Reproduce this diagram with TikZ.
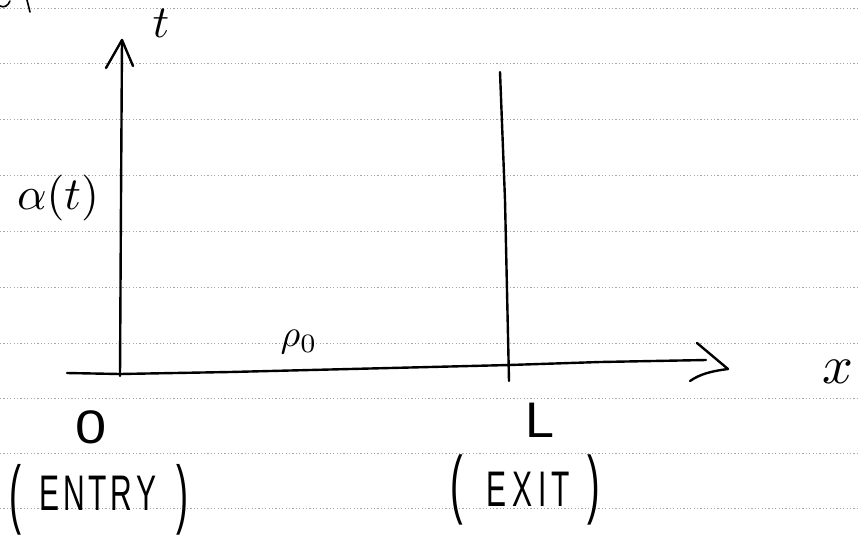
\documentclass[tikz,border=0pt]{standalone}
\usepackage{fontspec}
\usepackage{graphicx}
\newfontfamily\handfont{Liberation Sans}
\tikzset{
  ink/.style={line width=2.4pt, line cap=round, line join=round, black},
  ruled/.style={gray!70, line width=0.6pt, dash pattern=on 1.2pt off 2.2pt},
  lbl/.style={inner sep=0pt, outer sep=0pt, black},
}
\begin{document}
\begin{tikzpicture}[x=1pt,y=-1pt]
\useasboundingbox (0,0) rectangle (858,536);
\fill[white] (0,0) rectangle (858,536);
% ruled lines of the paper
\foreach \yy in {8,63.5,119,175,231,287,343,398,453,508}
  \draw[ruled] (0,\yy) -- (858,\yy);
% fragment at top left
\draw[ink, line width=1.6pt] (0,6) .. controls (4,8) and (8,6) .. (10,1);
\draw[ink, line width=1.6pt] (27,0) -- (30,12);
% coordinates
\coordinate (vbot) at (120,376);
\coordinate (vtop) at (122,40);
\coordinate (tipL) at (106,68);
\coordinate (tipR) at (133,66);
\coordinate (hstart) at (67,373);
\coordinate (hend) at (706,360);
\coordinate (hb1) at (697,343);
\coordinate (htip) at (728,369);
\coordinate (hb2) at (690,381);
\coordinate (rtop) at (500,72);
\coordinate (rbot) at (509,381);
% vertical t axis
\draw[ink] (vbot) -- (121,200) -- (vtop);
\draw[ink] (tipL) -- (vtop) -- (tipR);
% horizontal x axis
\draw[ink] (hstart) -- (120,374) -- (230,372) -- (430,367) -- (509,365) -- (600,362) -- (hend);
\draw[ink] (hb1) -- (htip) .. controls (712,371) and (700,374) .. (hb2);
% exit line
\draw[ink] (rtop) -- (505,200) -- (rbot);
% labels
\node[lbl] (tlab) at (161,23) {\scalebox{4.6}{$t$}};
\node[lbl] (xlab) at (838,372) {\scalebox{5.4}{$x$}};
\node[lbl] (alab) at (58,198) {\scalebox{4.6}{$\alpha(t)$}};
\node[lbl] (rho) at (299,342) {\scalebox{3.8}{$\rho_{0}$}};
\node[lbl] (zero) at (91,427) {\handfont\scalebox{5.6}[4.7]{0}};
\node[lbl] (Llab) at (540,420) {\handfont\scalebox{5.2}[5.0]{L}};
\node[lbl] (entry) at (99,500) {\handfont\fontsize{40}{40}\selectfont
  \scalebox{0.9}[1.9]{(}\hspace{18pt}\raisebox{9pt}{\fontsize{50}{50}\selectfont\scalebox{0.6}[1]{E\hspace{6pt}N\hspace{6pt}T\hspace{6pt}R\hspace{6pt}Y}}\hspace{20pt}\scalebox{0.9}[1.9]{)}};
\node[lbl] (exit) at (525,490) {\handfont\fontsize{42}{42}\selectfont
  \scalebox{0.9}[1.8]{(}\hspace{24pt}\raisebox{3pt}{\fontsize{50}{50}\selectfont\scalebox{0.6}[1]{E\hspace{10pt}X\hspace{10pt}I\hspace{8pt}T}}\hspace{17pt}\scalebox{0.9}[1.8]{)}};
\end{tikzpicture}
\end{document}
